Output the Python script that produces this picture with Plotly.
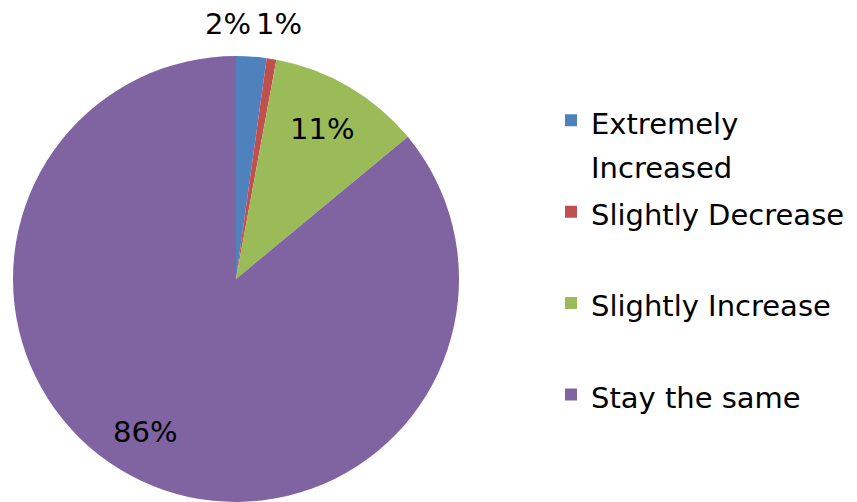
import plotly.graph_objects as go

categories = ["Extremely<br>Increased", "Slightly Decrease", "Slightly Increase", "Stay the same"]
values = [2.2, 0.7, 11.1, 86.0]
colors = ["#4F81BD", "#C0504D", "#9BBB59", "#8064A2"]
# where each percentage label sits, in pixels of the 857x502 picture
label_px = [(228, 24), (279, 24), (322, 129), (145, 432)]

W, H = 857, 502
MT = 56
FONT = "'DejaVu Sans', sans-serif"
TXT = 29

total = sum(values)
legend_labels = []
for c in categories:
    parts = c.split("<br>")
    body = "<br>".join(f"<span style='font-size:{TXT}px'>{p}</span>" for p in parts)
    if len(parts) < 2:
        body += "<br> "
    legend_labels.append(body)

fig = go.Figure(go.Pie(
    labels=legend_labels,
    values=values,
    sort=False,
    direction="clockwise",
    rotation=0,
    marker=dict(colors=colors, line=dict(width=0)),
    textinfo="none",
    textposition="none",
    domain=dict(x=[12 / W, 460 / W], y=[0, 1]),
    automargin=False,
    showlegend=True,
    hoverinfo="percent",
))

for v, (px, py) in zip(values, label_px):
    fig.add_annotation(
        x=px / W, y=(H - py) / (H - MT), xref="paper", yref="paper",
        text=f"{round(100 * v / total)}%", showarrow=False,
        xanchor="center", yanchor="middle",
        font=dict(family=FONT, size=TXT, color="black"),
    )

fig.update_layout(
    width=W, height=H,
    margin=dict(l=0, r=0, t=MT, b=0),
    paper_bgcolor="white",
    plot_bgcolor="white",
    legend=dict(
        x=551 / W, y=0.92, xanchor="left", yanchor="top",
        font=dict(family=FONT, size=34, color="black"),
        valign="top",
        itemwidth=30,
    ),
)

fig.write_html("out.html")
